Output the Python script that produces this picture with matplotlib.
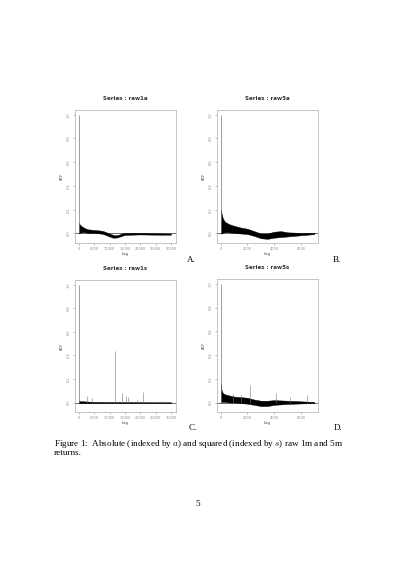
import numpy as np
import matplotlib
matplotlib.use("Agg")
from matplotlib import pyplot as plt

plt.rcParams["mathtext.fontset"] = "cm"

# envelopes of the dense ACF bands (lag, upper, lower)
lag_1a = [0, 200, 1000, 2000, 3000, 5000, 7000, 8000, 9000, 10000, 11000, 12000, 13000, 14000, 15000, 17000, 20000, 25000, 30000]
up_1a = [0.09, 0.08, 0.06, 0.045, 0.035, 0.03, 0.025, 0.02, 0.01, 0.0, -0.01, -0.015, -0.01, 0.0, 0.005, 0.005, 0.005, 0.002, 0.0]
lo_1a = [0.0, 0.005, 0.01, 0.01, 0.005, 0.005, 0.0, -0.005, -0.015, -0.025, -0.035, -0.035, -0.03, -0.02, -0.012, -0.01, -0.008, -0.01, -0.01]

lag_5a = [0, 60, 150, 300, 600, 1000, 1500, 2000, 2500, 3000, 3500, 4000, 4500, 5000, 6000, 7000]
up_5a = [0.2, 0.17, 0.13, 0.1, 0.08, 0.065, 0.05, 0.04, 0.02, 0.0, 0.0, 0.015, 0.02, 0.01, 0.005, 0.005]
lo_5a = [0.0, 0.0, 0.005, 0.01, 0.01, 0.005, 0.0, -0.005, -0.02, -0.04, -0.045, -0.035, -0.03, -0.025, -0.015, -0.005]

lag_1s = [0, 500, 2000, 5000, 10000, 15000, 20000, 25000, 30000]
up_1s = [0.015, 0.012, 0.01, 0.006, 0.005, 0.005, 0.004, 0.003, 0.003]
lo_1s = [-0.005, -0.005, -0.004, -0.004, -0.004, -0.004, -0.004, -0.004, -0.004]
spike_lag_1s = [2670, 4270, 11700, 14000, 15500, 16000, 19000, 20900, 26500]
spike_val_1s = [0.055, 0.037, 0.44, 0.077, 0.053, 0.05, 0.02, 0.09, 0.015]

lag_5s = [0, 50, 150, 300, 600, 1000, 1500, 2000, 2500, 3000, 3500, 4000, 5000, 6000, 7000]
up_5s = [0.16, 0.11, 0.08, 0.07, 0.06, 0.05, 0.045, 0.04, 0.025, 0.015, 0.015, 0.02, 0.015, 0.01, 0.005]
lo_5s = [0.0, 0.005, 0.005, 0.005, 0.0, 0.0, -0.005, -0.01, -0.02, -0.03, -0.03, -0.02, -0.012, -0.008, -0.004]
spike_lag_5s = [900, 1500, 2170, 4100, 5200, 6450]
spike_val_5s = [0.07, 0.065, 0.15, 0.08, 0.05, 0.06]

panels = [
    ("raw1a", "A.", lag_1a, up_1a, lo_1a, [], [], 30400, [0, 5000, 10000, 15000, 20000, 25000, 30000]),
    ("raw5a", "B.", lag_5a, up_5a, lo_5a, [], [], 7000, [0, 2000, 4000, 6000]),
    ("raw1s", "C.", lag_1s, up_1s, lo_1s, spike_lag_1s, spike_val_1s, 30400, [0, 5000, 10000, 15000, 20000, 25000, 30000]),
    ("raw5s", "D.", lag_5s, up_5s, lo_5s, spike_lag_5s, spike_val_5s, 7000, [0, 2000, 4000, 6000]),
]

W, H = 400, 566
fig = plt.figure(figsize=(4.0, 5.66), dpi=100)

# box positions in pixels: left, top, right, bottom
boxes = [(75, 110, 176, 243), (217, 110, 318, 243), (75, 280, 176, 412), (217, 279, 318, 412)]
letter_pos = [(187, 260), (333, 260), (189, 428), (334, 428)]

gray = "#8a8a8a"
for (name, letter, lg, up, lo, sl, sv, nmax, xt), (l, t, r, b), (lx, ly) in zip(panels, boxes, letter_pos):
    ax = fig.add_axes([l / W, 1 - b / H, (r - l) / W, (b - t) / H])
    ax.fill_between(lg, lo, up, color="black", lw=0.3, edgecolor="black")
    ax.vlines(0, 0, 1.0, color="#777777", lw=0.5)
    if sl:
        ax.vlines(sl, 0, sv, color="#777777", lw=0.4)
    ax.axhline(0, color="black", lw=0.4)
    ax.set_xlim(-0.04 * nmax, 1.04 * nmax)
    ax.set_ylim(-0.08, 1.04)
    ax.set_xticks(xt)
    ax.set_yticks([0, 0.2, 0.4, 0.6, 0.8, 1.0])
    ax.set_yticklabels(["0.0", "0.2", "0.4", "0.6", "0.8", "1.0"], rotation=90, va="center")
    ax.tick_params(labelsize=2.5, length=1.5, width=0.4, colors=gray, pad=1.5)
    for s in ax.spines.values():
        s.set_color("#bbbbbb")
        s.set_linewidth(0.6)
    ax.set_xlabel("Lag", fontsize=2.8, color="#444444", labelpad=0.5)
    ax.set_ylabel("ACF", fontsize=2.8, color="#444444", labelpad=2)
    ax.set_title("Series : " + name, fontsize=4, color="#333333", fontweight="bold", pad=7)
    fig.text(lx / W, 1 - ly / H, letter, fontsize=6.5, family="Liberation Serif", ha="left", va="center")

fig.text(54 / W, 1 - 444 / H,
         "Figure 1:  Absolute (indexed by $a$) and squared (indexed by $s$) raw 1m and 5m",
         fontsize=6.6, family="Liberation Serif", ha="left", va="center")
fig.text(54 / W, 1 - 453 / H, "returns.", fontsize=6.6, family="Liberation Serif", ha="left", va="center")
fig.text(198 / W, 1 - 504 / H, "5", fontsize=6.6, family="Liberation Serif", ha="center", va="center")

fig.savefig("out.png", dpi=100, facecolor="white")
